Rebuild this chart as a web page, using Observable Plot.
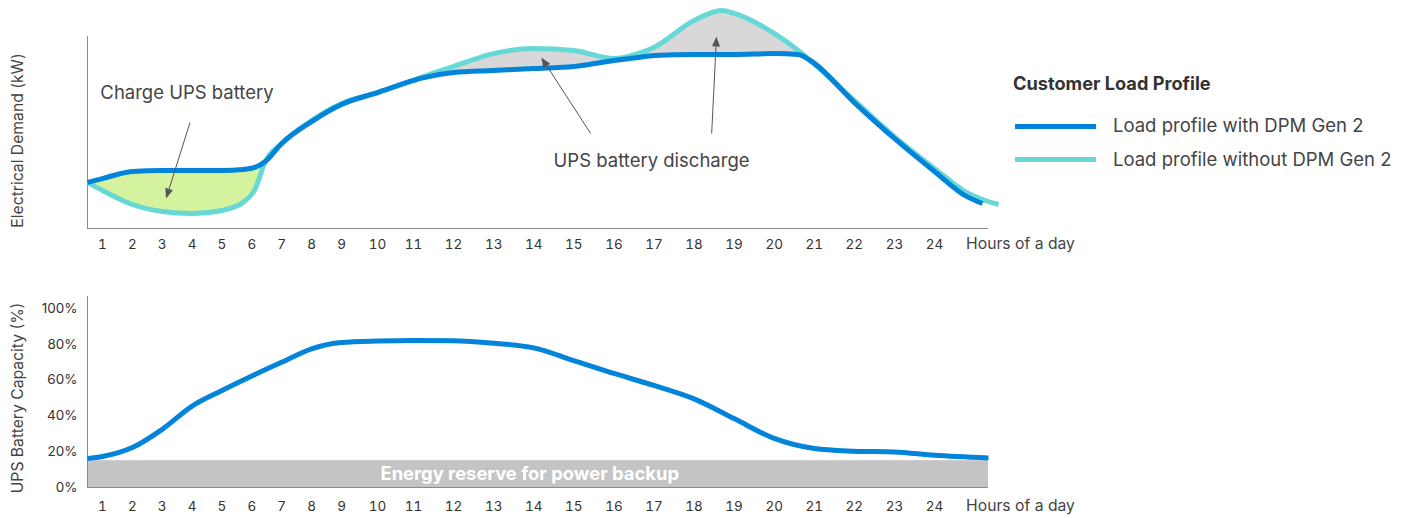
<!DOCTYPE html>
<html><head><meta charset="utf-8">
<script src="https://cdn.jsdelivr.net/npm/d3@7"></script>
<script src="https://cdn.jsdelivr.net/npm/@observablehq/plot@0.6"></script>
<style>
body{margin:0;background:#fff;font-family:Inter, sans-serif;}
#wrap{position:relative;width:1410px;height:518px;overflow:hidden;}
#top,#bottom{position:absolute;left:0;}
#top{top:0}
#bottom{top:265px}
.lg{position:absolute;white-space:nowrap;}
.lt{left:1013px;top:71px;font-size:18.2px;font-weight:700;color:#333;line-height:24px;}
.li{left:1113px;font-size:18.5px;color:#444;line-height:24px;}
.sw{position:absolute;left:1015px;width:81px;height:5px;}
</style></head><body>
<div id="wrap">
<div id="top"></div><div id="bottom"></div>
<div class="lg lt">Customer Load Profile</div>
<div class="sw" style="top:124px;background:#0284DB"></div>
<div class="lg li" style="top:113px">Load profile with DPM Gen 2</div>
<div class="sw" style="top:157px;background:#66D8D6"></div>
<div class="lg li" style="top:147px">Load profile without DPM Gen 2</div>
</div>
<script>
// ---- data ----
const hours      = [0.5, 1, 2, 3, 4, 5, 5.7, 6.1, 6.45, 7, 8, 9, 10, 11, 11.2, 12, 13, 14, 15, 16, 16.6, 17, 18, 18.7, 19, 20, 20.6, 20.9, 22, 23, 24, 24.8, 25.2, 25.6];
const withDPM    = [24.0, 26.0, 29.7, 30.2, 30.2, 30.2, 30.7, 31.8, 34.9, 44.3, 55.7, 64.6, 70.8, 77.1, 78.3, 81.3, 82.3, 83.3, 84.4, 87.5, 89.1, 90.1, 90.6, 90.6, 90.6, 91.1, 90.6, 87.5, 65.6, 46.9, 29.7, 16.7, 13.0, null];
const withoutDPM = [24.0, 19.8, 12.5, 8.9, 7.8, 9.4, 13.5, 20.3, 34.9, 44.3, 56.3, 65.1, 70.8, 77.1, 78.7, 84.4, 91.1, 93.8, 92.7, 88.5, 91.1, 94.3, 108.3, 113.5, 112.0, 101.6, 92.7, 87.5, 66.7, 47.9, 31.3, 18.8, 15.1, 12.5];

const batteryHours = [0.5, 1, 2, 3, 4, 5, 6, 7, 8, 9, 10, 11, 12, 13, 14, 15, 16, 17, 18, 19, 20, 21, 22, 23, 24, 25.35];
const batteryPct   = [16.2, 17.3, 22.3, 32.5, 45.5, 54.2, 62.3, 70.0, 77.5, 81.0, 81.8, 82.1, 82.0, 80.6, 78.0, 70.9, 63.7, 57.0, 49.5, 38.5, 27.4, 21.8, 20.3, 19.8, 18.0, 16.5];

const hourTicks = [1,2,3,4,5,6,7,8,9,10,11,12,13,14,15,16,17,18,19,20,21,22,23,24];
const pctTicks = [0, 20, 40, 60, 80, 100];
const reservePct = 15;
const xLabel = "Hours of a day";

const annotations = [
  {label: "Charge UPS battery", hour: 3.83, value: 70.3},
  {label: "UPS battery discharge", hour: 16.94, value: 34.9}
];
const arrowFromHour = [3.93, 15.42, 18.44];
const arrowFromVal  = [55.2, 49.5, 49.5];
const arrowToHour   = [3.13, 14.19, 18.56];
const arrowToVal    = [15.6, 89.1, 100];

// ---- layout / style ----
const blue = "#0284DB", cyan = "#66D8D6", green = "#D5F39E", grayFill = "#D8D8D8", axisColor = "#8a8a8a";
const xDomain = [0.5, 9, 11, 24, 25.35];
const xRange = [87, 341, 413, 934, 988];
const xEnd = 25.35;
const curve = "monotone-x";
const font = "Inter, sans-serif";

const rows = hours.map((h, i) => ({hour: h, with: withDPM[i], without: withoutDPM[i]}));
const charge = rows.filter(d => d.hour <= 6.45);
const discharge = rows.filter(d => d.hour >= 11 && d.hour <= 20.9);

// mirror scales for arrowhead geometry
const TOP_H = 265, TOP_MT = 36, TOP_MB = 37;
const xs = d3.scaleLinear(xDomain, xRange);
const ys = d3.scaleLinear([0, 100], [TOP_H - TOP_MB, TOP_MT]);
const links = [], heads = [];
arrowFromHour.forEach((h, i) => {
  const sx = xs(h), sy = ys(arrowFromVal[i]);
  const tx = xs(arrowToHour[i]), ty = ys(arrowToVal[i]);
  const L = Math.hypot(tx - sx, ty - sy);
  const ux = (tx - sx) / L, uy = (ty - sy) / L;
  const nx = -uy, ny = ux;
  const bx = tx - 10 * ux, by = ty - 10 * uy;
  links.push({x1: h, y1: arrowFromVal[i], x2: xs.invert(bx), y2: ys.invert(by)});
  [[tx, ty], [bx + 4 * nx, by + 4 * ny], [bx - 4 * nx, by - 4 * ny]].forEach(([px, py]) =>
    heads.push({id: i, x: xs.invert(px), y: ys.invert(py)}));
});

const topPlot = Plot.plot({
  width: 1410, height: TOP_H, marginLeft: 87, marginTop: TOP_MT, marginBottom: TOP_MB, marginRight: 0,
  style: {fontFamily: font, color: "#444", background: "transparent", overflow: "visible"},
  x: {type: "linear", domain: xDomain, range: xRange, axis: null},
  y: {domain: [0, 100], axis: null},
  marks: [
    Plot.areaY(charge, {x: "hour", y1: "without", y2: "with", fill: green, curve}),
    Plot.areaY(discharge, {x: "hour", y1: "with", y2: "without", fill: grayFill, curve}),
    Plot.ruleX([xDomain[0]], {y1: 0, y2: 100, stroke: axisColor}),
    Plot.ruleY([0], {x1: xDomain[0], x2: xEnd, stroke: axisColor}),
    Plot.line(rows, {x: "hour", y: "without", stroke: cyan, strokeWidth: 5, curve, strokeLinecap: "butt"}),
    Plot.line(rows, {x: "hour", y: "with", stroke: blue, strokeWidth: 5, curve, strokeLinecap: "butt"}),
    Plot.link(links, {x1: "x1", y1: "y1", x2: "x2", y2: "y2", stroke: "#555", strokeWidth: 1}),
    Plot.line(heads, {x: "x", y: "y", z: "id", fill: "#555", stroke: "none"}),
    Plot.text(annotations, {x: "hour", y: "value", text: "label", fontSize: 18.5, fill: "#444"}),
    Plot.text(hourTicks, {x: d => d, frameAnchor: "bottom", dy: 20, fontSize: 13.5, fill: "#333"}),
    Plot.text([xLabel], {x: xEnd, frameAnchor: "bottom", dy: 20, dx: 32, fontSize: 15.7, fill: "#444"}),
    Plot.text(["Electrical Demand (kW)"], {frameAnchor: "left", textAnchor: "middle", rotate: -90, dx: -70, dy: 8, fontSize: 15.7, fill: "#444"})
  ]
});
document.getElementById("top").append(topPlot);

const batteryRows = batteryHours.map((h, i) => ({hour: h, pct: batteryPct[i]}));
const bottomPlot = Plot.plot({
  width: 1410, height: 253, marginLeft: 87, marginTop: 43, marginBottom: 31, marginRight: 0,
  style: {fontFamily: font, color: "#444", background: "transparent", overflow: "visible"},
  x: {type: "linear", domain: xDomain, range: xRange, axis: null},
  y: {domain: [0, 100], axis: null},
  marks: [
    Plot.rect([reservePct], {x1: xDomain[0], x2: xEnd, y1: 0, y2: d => d, fill: "#C4C4C4"}),
    Plot.ruleX([xDomain[0]], {y1: 0, y2: 106.7, stroke: axisColor}),
    Plot.ruleY([0], {x1: xDomain[0], x2: xEnd, stroke: axisColor}),
    Plot.line(batteryRows, {x: "hour", y: "pct", stroke: blue, strokeWidth: 5, curve, strokeLinecap: "butt"}),
    Plot.text(pctTicks, {y: d => d, frameAnchor: "left", dx: -10, textAnchor: "end", text: d => d + "%", fontSize: 13.5, fill: "#333"}),
    Plot.text(hourTicks, {x: d => d, frameAnchor: "bottom", dy: 23, fontSize: 13.5, fill: "#333"}),
    Plot.text([xLabel], {x: xEnd, frameAnchor: "bottom", dy: 23, dx: 32, fontSize: 15.7, fill: "#444"}),
    Plot.text(["UPS Battery Capacity (%)"], {frameAnchor: "left", textAnchor: "middle", rotate: -90, dx: -70, dy: 0, fontSize: 15.7, fill: "#444"}),
    Plot.text(["Energy reserve for power backup"], {x: 13.9, y: 7.3, fill: "white", fontWeight: 700, fontSize: 18.4})
  ]
});
document.getElementById("bottom").append(bottomPlot);
</script>
</body></html>
